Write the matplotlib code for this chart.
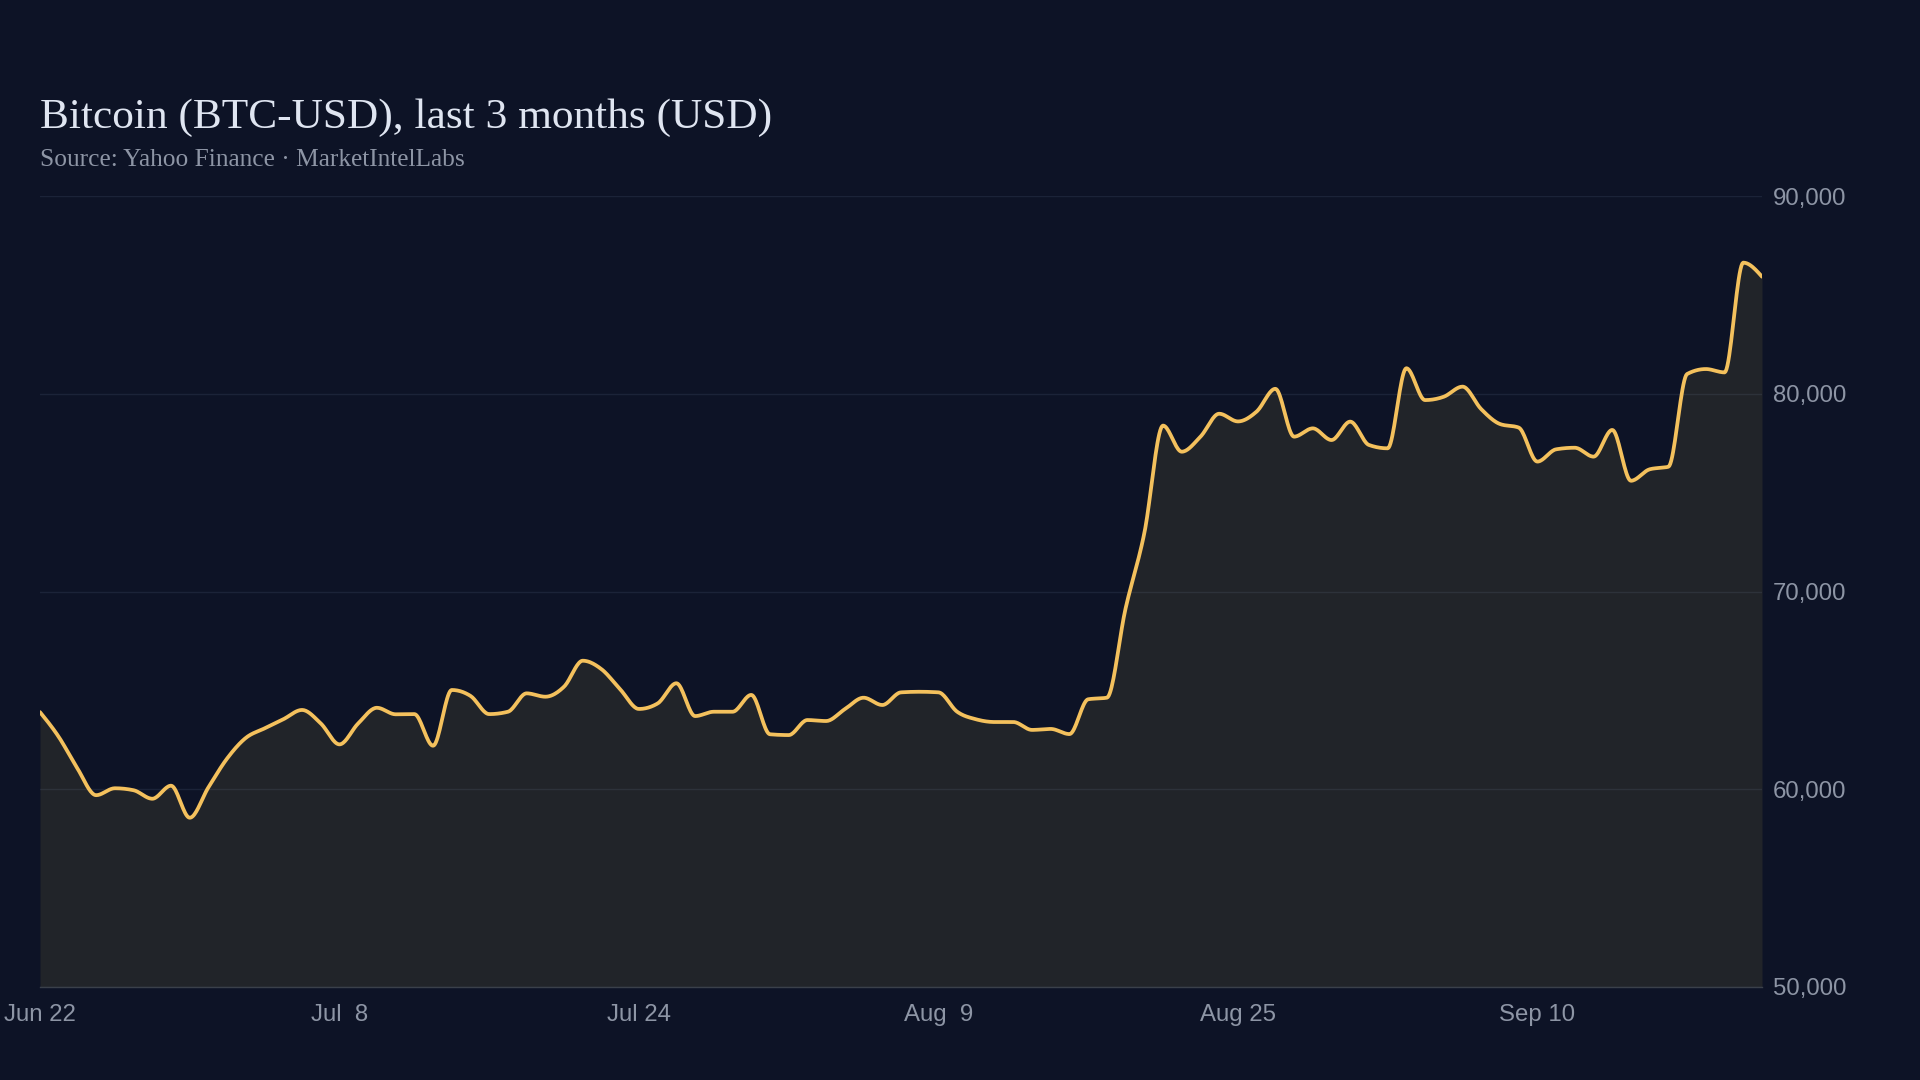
import numpy as np
import pandas as pd
import matplotlib
matplotlib.use("Agg")
import matplotlib.pyplot as plt

# daily closes, Jun 22 -> Sep 22
start_date = "2024-06-22"
prices = [63900, 62650, 61050, 59700, 60050, 59950, 59520, 60180, 58560, 60100,
          61560, 62600, 63080, 63540, 64010, 63330, 62270, 63330, 64120, 63790,
          63800, 62200, 65020, 64720, 63800, 63920, 64850, 64680, 65190, 66500,
          66070, 65050, 64060, 64340, 65360, 63700, 63920, 63920, 64770, 62780,
          62740, 63500, 63450, 64050, 64630, 64260, 64900, 64930, 64900, 63920,
          63540, 63400, 63400, 63000, 63050, 62790, 64550, 64630, 69150, 72950,
          78390, 77070, 77830, 78990, 78600, 79100, 80250, 77830, 78250, 77660,
          78590, 77410, 77240, 81290, 79680, 79850, 80360, 79220, 78470, 78290,
          76570, 77190, 77270, 76820, 78170, 75600, 76180, 76310, 81000, 81250,
          81080, 86630, 85920]
y_ticks = [50000, 60000, 70000, 80000, 90000]
x_tick_every = 16

title = "Bitcoin (BTC-USD), last 3 months (USD)"
subtitle = "Source: Yahoo Finance \u00b7 MarketIntelLabs"

BG = "#0d1326"
LINE = "#f4c15d"
FILL = "#212429"
GRID = "#8899bb"
MUTED = "#8d95a5"


def monotone_curve(x, y, n=20):
    # monotone cubic (like d3 curveMonotoneX), only used to draw the path smooth
    x = np.asarray(x, float)
    y = np.asarray(y, float)
    h = np.diff(x)
    s = np.diff(y) / h
    m = np.zeros_like(y)
    for i in range(1, len(y) - 1):
        s0, s1 = s[i - 1], s[i]
        p = (s0 * h[i] + s1 * h[i - 1]) / (h[i - 1] + h[i])
        m[i] = (np.sign(s0) + np.sign(s1)) * min(abs(s0), abs(s1), 0.5 * abs(p))
    m[0] = (3 * s[0] - m[1]) / 2
    m[-1] = (3 * s[-1] - m[-2]) / 2
    xs, ys = [], []
    for i in range(len(y) - 1):
        t = np.linspace(0, 1, n, endpoint=False)
        h00 = 2 * t**3 - 3 * t**2 + 1
        h10 = t**3 - 2 * t**2 + t
        h01 = -2 * t**3 + 3 * t**2
        h11 = t**3 - t**2
        xs.append(x[i] + t * h[i])
        ys.append(h00 * y[i] + h10 * h[i] * m[i] + h01 * y[i + 1] + h11 * h[i] * m[i + 1])
    xs.append([x[-1]])
    ys.append([y[-1]])
    return np.concatenate(xs), np.concatenate(ys)


dates = pd.date_range(start_date, periods=len(prices), freq="D")
days = np.arange(len(prices))
sx, sy = monotone_curve(days, prices)

fig = plt.figure(figsize=(19.2, 10.8), dpi=100, facecolor=BG)
ax = fig.add_axes([40 / 1920, 1 - 987 / 1080, (1762 - 40) / 1920, (987 - 196) / 1080])
ax.set_facecolor(BG)

ax.fill_between(sx, y_ticks[0], sy, color=FILL, lw=0, zorder=1)
ax.plot(sx, sy, color=LINE, lw=2.7, solid_capstyle="round", zorder=3)

ax.set_xlim(0, days[-1])
ax.set_ylim(y_ticks[0], y_ticks[-1])

ax.set_yticks(y_ticks)
ax.set_yticklabels([f"{v:,}" for v in y_ticks])
ax.yaxis.tick_right()
ax.grid(axis="y", color=GRID, alpha=0.12, lw=1, zorder=2)
ax.set_axisbelow(False)

xt = days[::x_tick_every]
ax.set_xticks(xt)
ax.set_xticklabels([f"{dates[i]:%b} {dates[i].day:>2}" for i in xt])

ax.tick_params(axis="both", length=0, colors=MUTED, labelsize=17.3)
ax.tick_params(axis="y", pad=8)
ax.tick_params(axis="x", pad=12.5)
for lab in ax.get_xticklabels() + ax.get_yticklabels():
    lab.set_family(["Liberation Sans", "DejaVu Sans"])

for side in ["top", "left", "right"]:
    ax.spines[side].set_visible(False)
ax.spines["bottom"].set_color("#3a404a")
ax.spines["bottom"].set_linewidth(1)

fig.text(40 / 1920, 1 - 128 / 1080, title, color="#dfe5f1", fontsize=31.2,
         family=["Liberation Serif", "DejaVu Serif"], va="baseline", ha="left")
fig.text(40 / 1920, 1 - 166 / 1080, subtitle, color=MUTED, fontsize=18.3,
         family=["Liberation Serif", "DejaVu Serif"], va="baseline", ha="left")

fig.savefig("out.png", dpi=100, facecolor=BG)
